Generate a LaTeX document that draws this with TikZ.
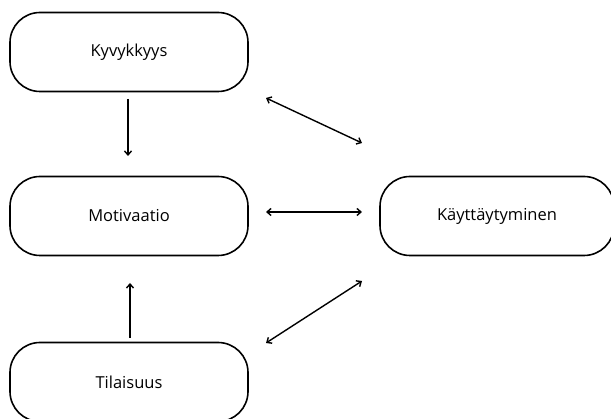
\documentclass[tikz,border=0pt]{standalone}
\usepackage{fontspec}
\setmainfont{Open Sans}
\usetikzlibrary{arrows.meta}
\begin{document}
\begin{tikzpicture}[x=1pt,y=-1pt,
  factor/.style={draw=black, line width=1.6pt, rounded corners=30pt, minimum width=238pt, minimum height=79pt, font=\fontsize{16.5}{19}\selectfont, inner sep=0pt},
  link/.style={line width=1.4pt, {Straight Barb[length=4pt,width=7pt]}-{Straight Barb[length=4pt,width=7pt]}},
  oneway/.style={line width=1.4pt, -{Straight Barb[length=4pt,width=7pt]}}]
  \useasboundingbox (0,0) rectangle (611,419);
  \node[factor] (kyv) at (129,52) {Kyvykkyys};
  \node[factor] (mot) at (129,216) {Motivaatio};
  \node[factor] (til) at (129,382) {Tilaisuus};
  \node[factor, minimum width=234pt] (kay) at (497,216) {Käyttäytyminen};
  % free ends of the connectors
  \coordinate (a1) at (128,99);   \coordinate (a2) at (128,156);
  \coordinate (b1) at (130,338);  \coordinate (b2) at (130,283);
  \coordinate (c1) at (266,212);  \coordinate (c2) at (362,212);
  \coordinate (d1) at (266,98);   \coordinate (d2) at (362,143);
  \coordinate (e1) at (266,343);  \coordinate (e2) at (362,281);
  \draw[oneway] (a1) -- (a2);
  \draw[oneway] (b1) -- (b2);
  \draw[link] (c1) -- (c2);
  \draw[link] (d1) -- (d2);
  \draw[link] (e1) -- (e2);
\end{tikzpicture}
\end{document}
